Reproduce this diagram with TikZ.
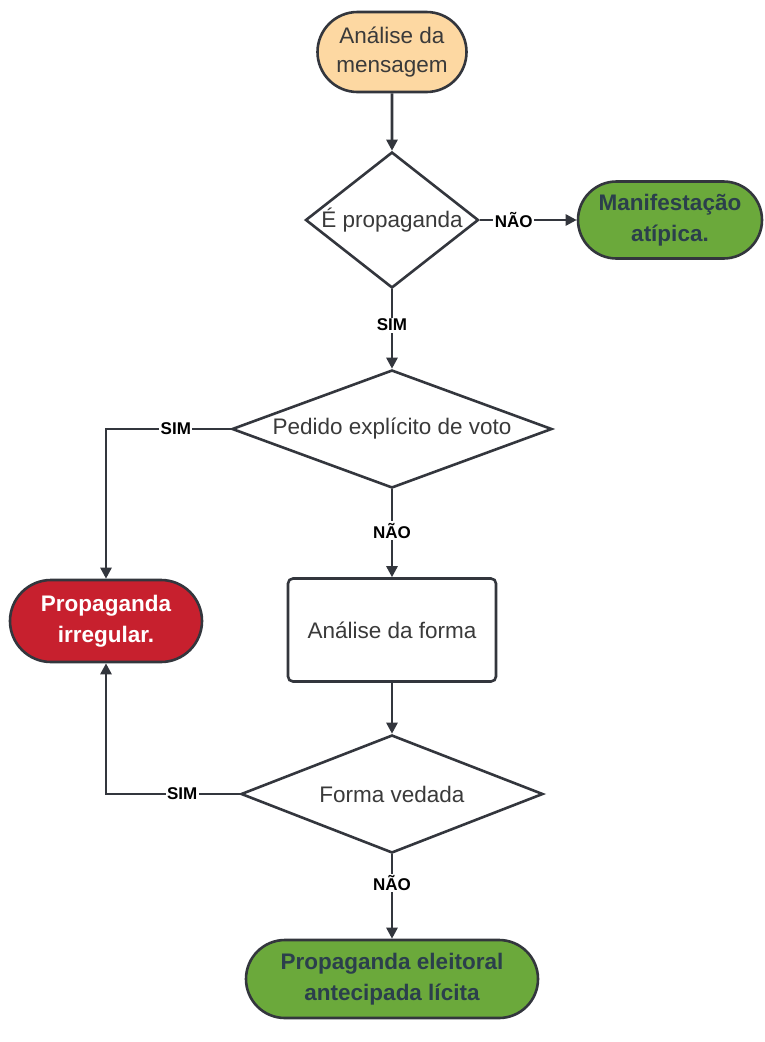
\documentclass[tikz,border=0pt]{standalone}
\usepackage{fontspec}
\setmainfont{Liberation Sans}
\usetikzlibrary{shapes.geometric,shapes.misc,arrows.meta}
\definecolor{edgecol}{HTML}{33363D}
\definecolor{txtgray}{HTML}{3A3A3A}
\definecolor{peach}{HTML}{FDD8A2}
\definecolor{leaf}{HTML}{6BA93B}
\definecolor{leaftxt}{HTML}{2B3F4C}
\definecolor{crimson}{HTML}{C7202E}
\tikzset{
  base/.style={draw=edgecol, line width=2.6pt, align=center, inner sep=0pt,
    font=\fontsize{22.5}{29}\selectfont, text=txtgray},
  term/.style={base, rounded rectangle},
  proc/.style={base, rectangle, rounded corners=5pt, fill=white},
  dec/.style={base, diamond, fill=white},
  dectext/.style={text=txtgray, font=\fontsize{22.5}{29}\selectfont},
  conn/.style={draw=edgecol, line width=2.6pt, -{Triangle[length=11pt,width=11pt]}},
  lbl/.style={fill=white, inner sep=1.5pt, text=black, font=\fontsize{17}{20}\selectfont\bfseries},
  bold/.style={font=\fontsize{22.5}{31}\selectfont\bfseries}
}
\begin{document}
\begin{tikzpicture}[x=1pt,y=-1pt]
\useasboundingbox (0,0) rectangle (765,1042);
\fill[white] (0,0) rectangle (765,1042);
% nodes
\node[term, fill=peach, minimum width=149pt, minimum height=80pt] (start) at (392,52) {Análise da\\mensagem};
\node[dec, minimum width=173pt, minimum height=136pt, label={[dectext]center:É propaganda}] (d1) at (392,220) {};
\node[term, fill=leaf, minimum width=184pt, minimum height=77pt, bold, text=leaftxt] (manif) at (670,220) {Manifestação\\atípica.};
\node[dec, minimum width=320pt, minimum height=118pt, label={[dectext]center:Pedido explícito de voto}] (d2) at (392,429) {};
\node[term, fill=crimson, minimum width=192pt, minimum height=82pt, bold, text=white] (irreg) at (106,621) {Propaganda\\irregular.};
\node[proc, minimum width=208pt, minimum height=103pt] (forma) at (392,630) {Análise da forma};
\node[dec, minimum width=302pt, minimum height=118pt, label={[dectext]center:Forma vedada}] (d3) at (392,794) {};
\node[term, fill=leaf, minimum width=292pt, minimum height=78pt, bold, text=leaftxt] (licita) at (392,979) {Propaganda eleitoral\\antecipada lícita};
% connectors
\draw[conn] (start) -- (d1.north);
\draw[conn] (d1.east) -- node[lbl, pos=0.35] {NÃO} (manif.west);
\draw[conn] (d1.south) -- node[lbl, pos=0.45] {SIM} (d2.north);
\draw[conn] (d2.west) -- node[lbl, pos=0.44] {SIM} (irreg.north |- d2.west) -- (irreg.north);
\draw[conn] (d2.south) -- node[lbl, pos=0.47] {NÃO} (forma.north);
\draw[conn] (forma.south) -- (d3.north);
\draw[conn] (d3.west) -- node[lbl, pos=0.43] {SIM} (irreg.south |- d3.west) -- (irreg.south);
\draw[conn] (d3.south) -- node[lbl, pos=0.34] {NÃO} (licita.north);
\end{tikzpicture}
\end{document}
